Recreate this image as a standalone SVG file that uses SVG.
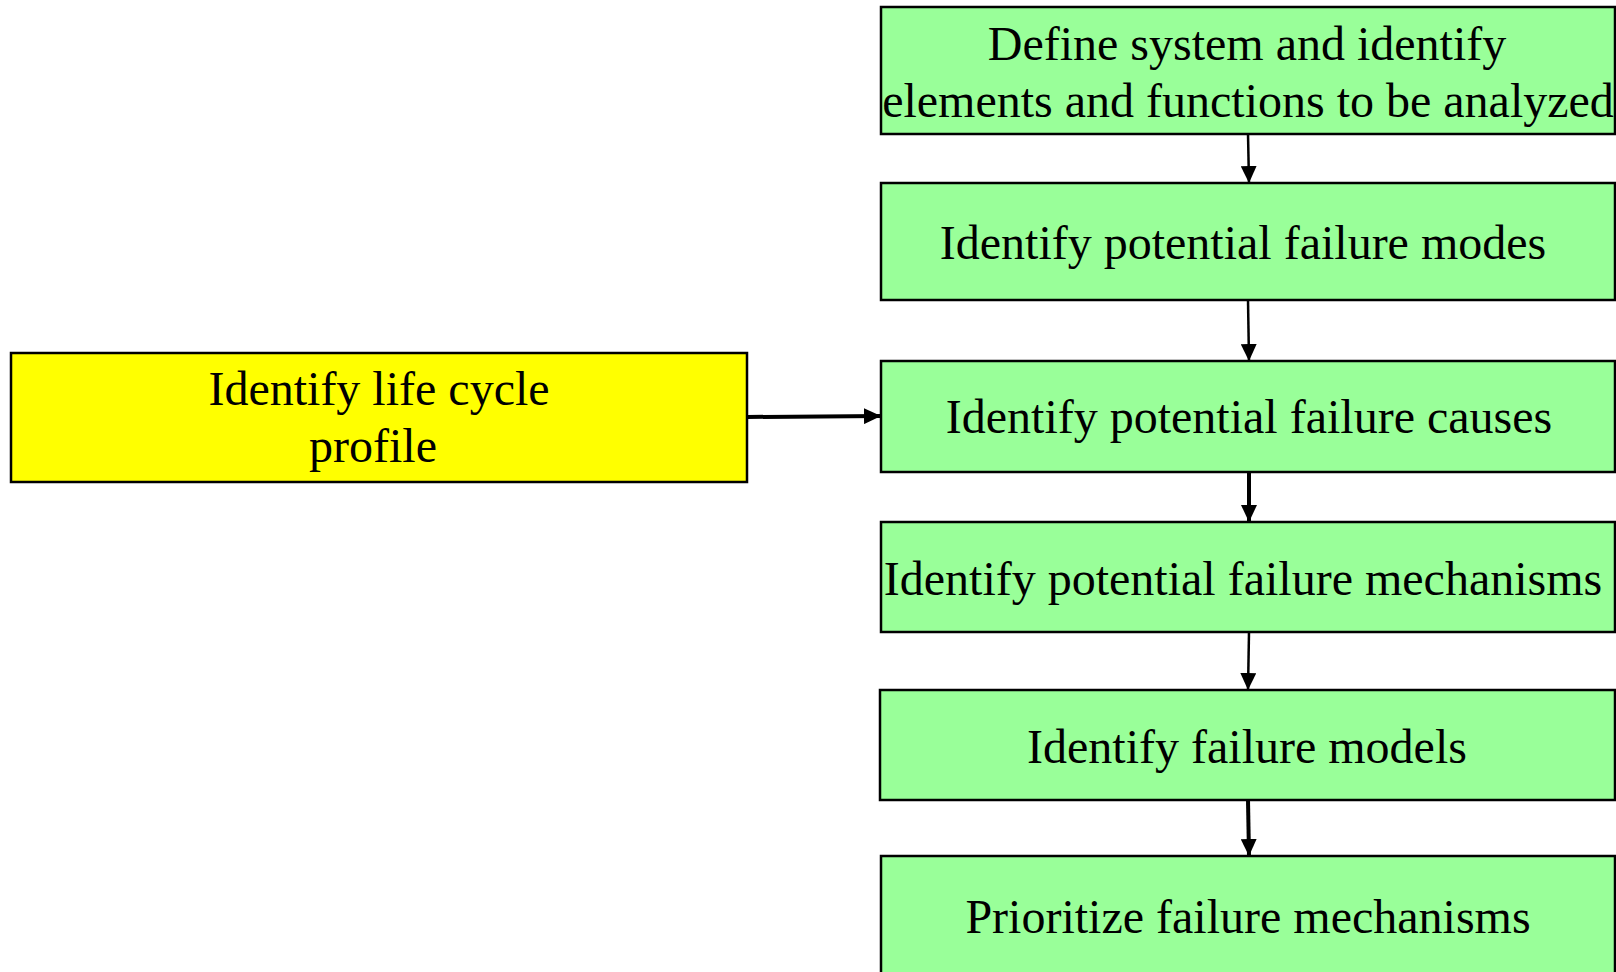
<svg xmlns="http://www.w3.org/2000/svg" width="1616" height="972" viewBox="0 0 1616 972">
  <style>
    .step { fill: #99ff99; stroke: #000; stroke-width: 2.5; }
    .input { fill: #ffff00; stroke: #000; stroke-width: 2.5; }
    .label { font-family: "Liberation Serif", "Times New Roman", serif; font-size: 48px; fill: #000; text-anchor: middle; }
    .link { stroke: #000; stroke-width: 2.5; fill: none; marker-end: url(#arrow); }
    .link.bold { stroke-width: 4; }
  </style>
  <defs>
    <marker id="arrow" viewBox="0 0 17 16" refX="17" refY="8" markerWidth="17" markerHeight="16" markerUnits="userSpaceOnUse" orient="auto">
      <path d="M0,0 L17,8 L0,16 Z" fill="#000"/>
    </marker>
  </defs>

  <g id="node-define">
    <rect class="step" x="881" y="7" width="734" height="127"/>
    <text class="label" x="1247" y="60">Define system and identify</text>
    <text class="label" x="1248" y="117">elements and functions to be analyzed</text>
  </g>

  <g id="node-modes">
    <rect class="step" x="881" y="183" width="734" height="117"/>
    <text class="label" x="1243" y="259">Identify potential failure modes</text>
  </g>

  <g id="node-lifecycle">
    <rect class="input" x="11" y="353" width="736" height="129"/>
    <text class="label" x="379" y="405">Identify life cycle</text>
    <text class="label" x="373" y="462">profile</text>
  </g>

  <g id="node-causes">
    <rect class="step" x="881" y="361" width="734" height="111"/>
    <text class="label" x="1249" y="433">Identify potential failure causes</text>
  </g>

  <g id="node-mechanisms">
    <rect class="step" x="881" y="522" width="734" height="110"/>
    <text class="label" x="1243" y="595">Identify potential failure mechanisms</text>
  </g>

  <g id="node-models">
    <rect class="step" x="880" y="690" width="735" height="110"/>
    <text class="label" x="1247" y="763">Identify failure models</text>
  </g>

  <g id="node-prioritize">
    <rect class="step" x="881" y="856" width="734" height="130"/>
    <text class="label" x="1248" y="933">Prioritize failure mechanisms</text>
  </g>

  <g id="connectors">
    <line class="link" x1="1248" y1="134" x2="1249" y2="183"/>
    <line class="link" x1="1248" y1="300" x2="1249" y2="361"/>
    <line class="link bold" x1="747" y1="417" x2="881" y2="416"/>
    <line class="link bold" x1="1249" y1="472" x2="1249" y2="522"/>
    <line class="link" x1="1249" y1="632" x2="1248" y2="690"/>
    <line class="link bold" x1="1248" y1="800" x2="1249" y2="856"/>
  </g>
</svg>
